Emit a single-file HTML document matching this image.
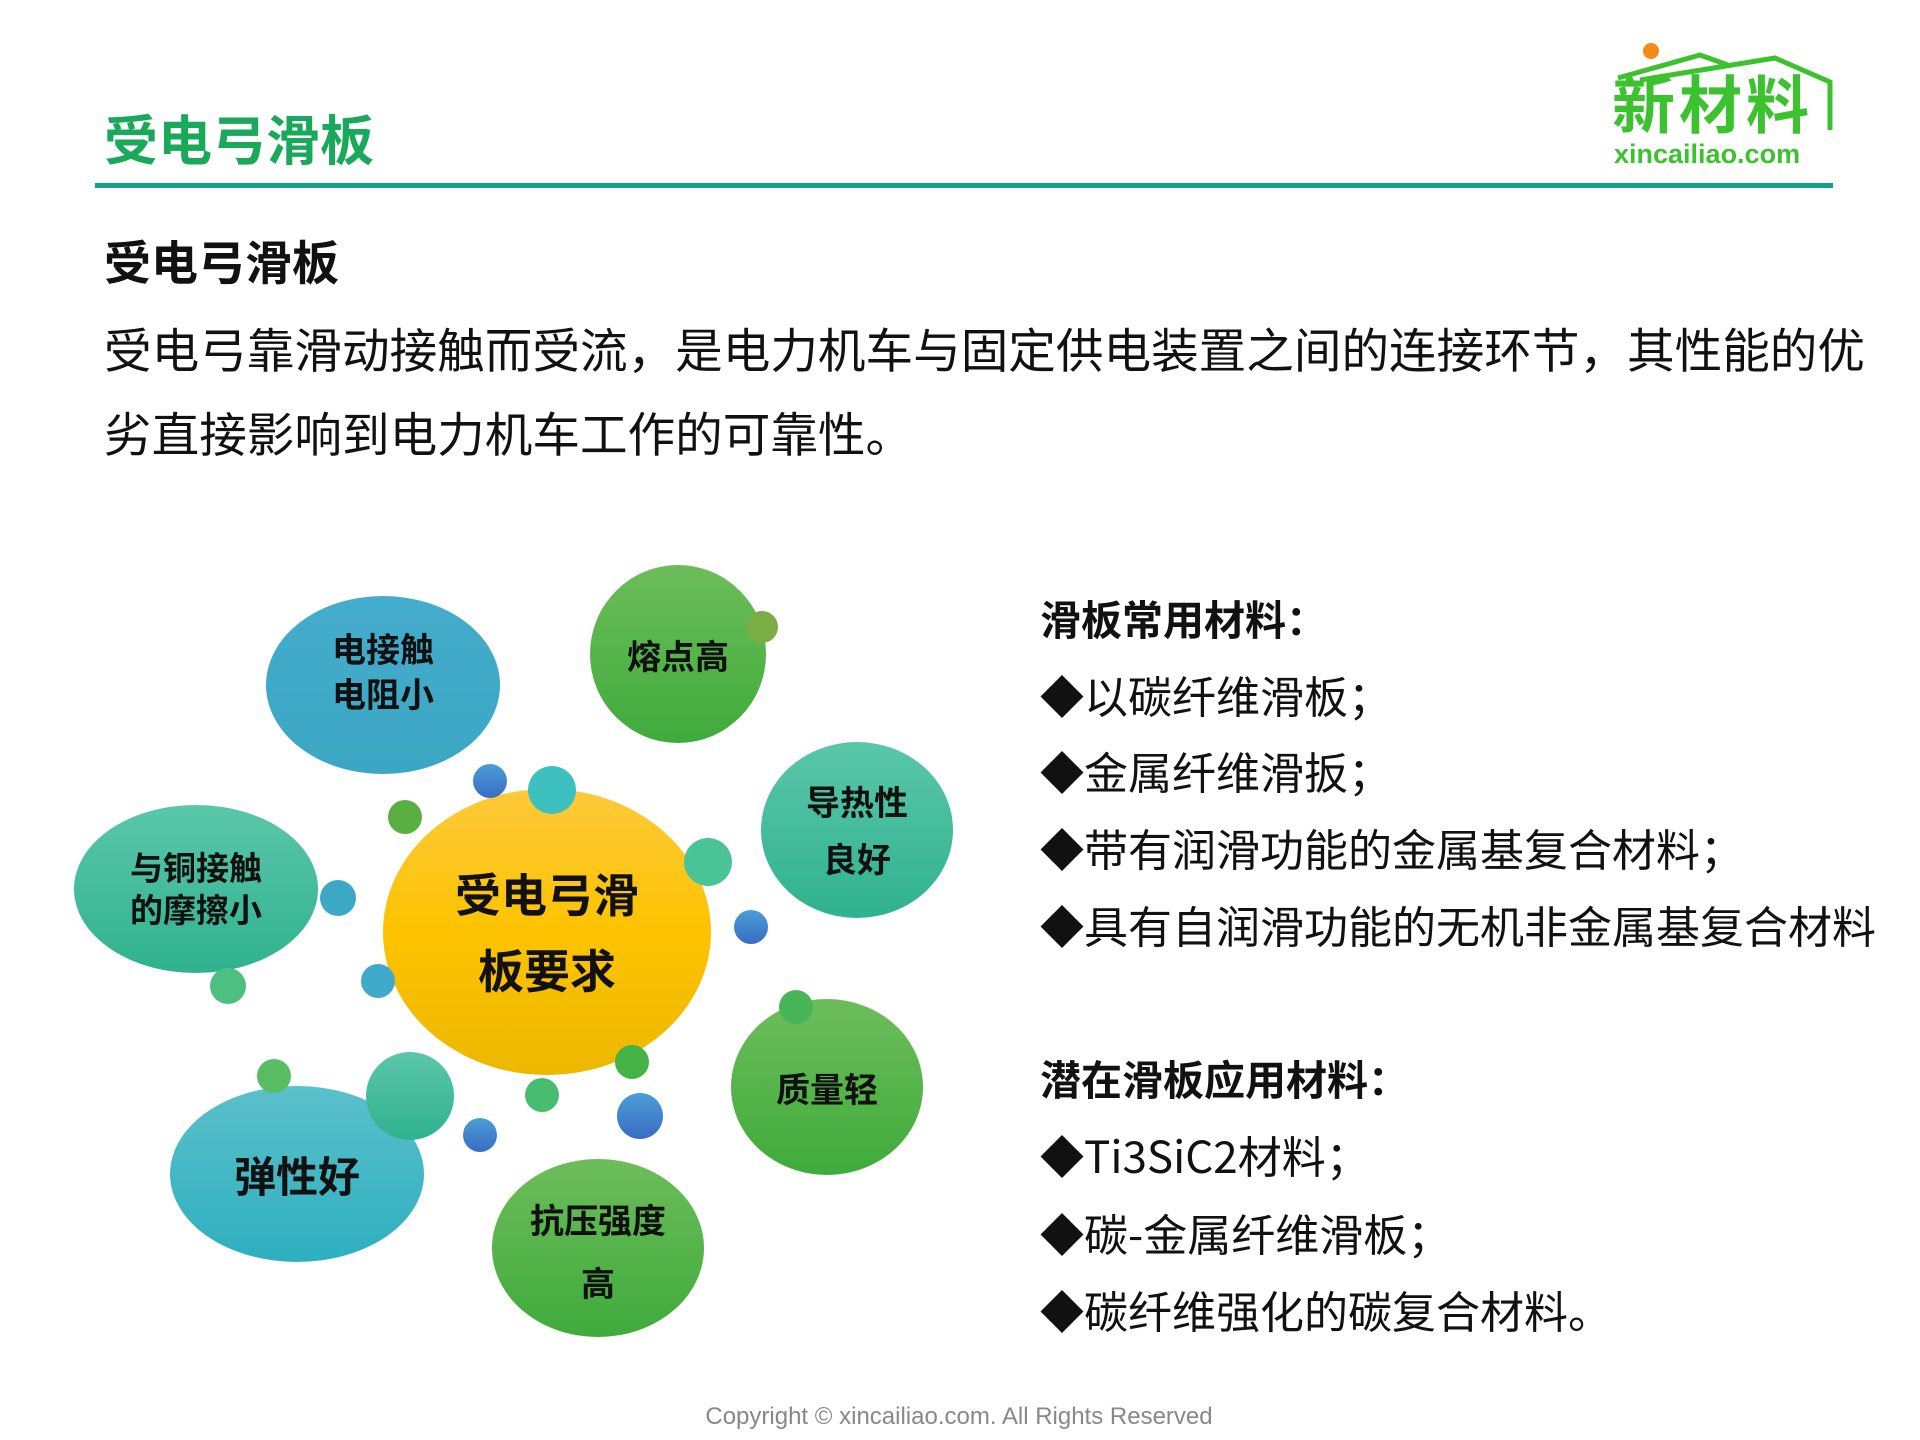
<!DOCTYPE html>
<html><head><meta charset="utf-8"><style>
html,body{margin:0;padding:0;background:#fff;}
body{width:1920px;height:1440px;position:relative;overflow:hidden;font-family:"Liberation Sans","Noto Sans CJK SC",sans-serif;}
.t{position:absolute;white-space:nowrap;line-height:1;}
.c{font-family:"Noto Sans CJK SC",sans-serif;}
</style></head><body>
<svg width="1920" height="1440" style="position:absolute;left:0;top:0" xmlns="http://www.w3.org/2000/svg">
<defs>
<linearGradient id="gy" x1="0" y1="0" x2="0" y2="1"><stop offset="0" stop-color="#fdc93a"/><stop offset="0.5" stop-color="#fdc300"/><stop offset="1" stop-color="#ecb800"/></linearGradient>
<linearGradient id="gg" x1="0" y1="0" x2="0" y2="1"><stop offset="0" stop-color="#6dbd5a"/><stop offset="1" stop-color="#3fab3c"/></linearGradient>
<linearGradient id="gt" x1="0" y1="0" x2="0" y2="1"><stop offset="0" stop-color="#5ac7a9"/><stop offset="1" stop-color="#30b28f"/></linearGradient>
<linearGradient id="gb" x1="0" y1="0" x2="0" y2="1"><stop offset="0" stop-color="#45accc"/><stop offset="1" stop-color="#3ba7c3"/></linearGradient>
<linearGradient id="gc" x1="0" y1="0" x2="0" y2="1"><stop offset="0" stop-color="#5bc0cb"/><stop offset="1" stop-color="#2eafbf"/></linearGradient>
<linearGradient id="gd" x1="0" y1="0" x2="0" y2="1"><stop offset="0" stop-color="#4a9ed6"/><stop offset="1" stop-color="#3a6cc4"/></linearGradient>
</defs>
<rect x="95" y="183" width="1738" height="5" fill="#12a384"/>
<circle cx="1651" cy="51" r="8" fill="#f38a1a"/>
<polyline points="1618,78 1700,55 1728,65" fill="none" stroke="#3dc22f" stroke-width="5"/>
<polyline points="1640,80 1775,58 1830,82 1830,130" fill="none" stroke="#3dc22f" stroke-width="5"/>
<ellipse cx="383" cy="685" rx="117" ry="89" fill="url(#gb)"/>
<ellipse cx="678" cy="654" rx="88" ry="89" fill="url(#gg)"/>
<circle cx="762" cy="627" r="16" fill="#7aae44"/>
<ellipse cx="857" cy="830" rx="96" ry="88" fill="url(#gt)"/>
<ellipse cx="196" cy="889" rx="122" ry="84" fill="url(#gt)"/>
<ellipse cx="827" cy="1087" rx="96" ry="88" fill="url(#gg)"/>
<ellipse cx="297" cy="1174" rx="127" ry="88" fill="url(#gc)"/>
<ellipse cx="598" cy="1248" rx="106" ry="89" fill="url(#gg)"/>
<ellipse cx="547" cy="932" rx="164" ry="143" fill="url(#gy)"/>
<circle cx="490" cy="781" r="17" fill="url(#gd)"/>
<circle cx="552" cy="790" r="24" fill="#3ec0c0"/>
<circle cx="405" cy="817" r="17" fill="#5aaf42"/>
<circle cx="708" cy="862" r="24" fill="#48c496"/>
<circle cx="751" cy="927" r="17" fill="url(#gd)"/>
<circle cx="338" cy="898" r="18" fill="#3ba8c6"/>
<circle cx="378" cy="981" r="17" fill="#40a9cc"/>
<circle cx="228" cy="986" r="18" fill="#4dbf80"/>
<circle cx="796" cy="1007" r="17" fill="#48b658"/>
<circle cx="274" cy="1076" r="17" fill="#58bd62"/>
<circle cx="410" cy="1096" r="44" fill="url(#gt)"/>
<circle cx="480" cy="1135" r="17" fill="url(#gd)"/>
<circle cx="542" cy="1095" r="17" fill="#49bd6f"/>
<circle cx="632" cy="1062" r="17" fill="#43b345"/>
<circle cx="640" cy="1116" r="23" fill="url(#gd)"/>
<g font-family="Noto Sans CJK SC, sans-serif" font-weight="bold" fill="#111" text-anchor="middle">
<text x="383" y="662" font-size="34">电接触</text>
<text x="383" y="707" font-size="34">电阻小</text>
<text x="678" y="669" font-size="34">熔点高</text>
<text x="857" y="815" font-size="34">导热性</text>
<text x="857" y="872" font-size="34">良好</text>
<text x="196" y="880" font-size="33">与铜接触</text>
<text x="196" y="922" font-size="33">的摩擦小</text>
<text x="827" y="1102" font-size="34">质量轻</text>
<text x="297" y="1192" font-size="42">弹性好</text>
<text x="598" y="1233" font-size="34">抗压强度</text>
<text x="598" y="1296" font-size="34">高</text>
<text x="547" y="912" font-size="46">受电弓滑</text>
<text x="547" y="988" font-size="46">板要求</text>
</g>
</svg>
<div class="t c" style="left:1612px;top:70px;font-size:63px;font-weight:bold;color:#3dc22f;letter-spacing:4px">新材料</div>
<div class="t" style="left:1614px;top:141px;font-size:27px;font-weight:bold;color:#3dc22f;">xincailiao.com</div>
<div class="t c" style="left:104px;top:110px;font-size:54px;font-weight:bold;color:#1aa85a;">受电弓滑板</div>
<div class="t c" style="left:104px;top:236px;font-size:47px;font-weight:bold;color:#111;">受电弓滑板</div>
<div class="t c" style="left:104px;top:324px;font-size:47.6px;color:#111;">受电弓靠滑动接触而受流，是电力机车与固定供电装置之间的连接环节，其性能的优</div>
<div class="t c" style="left:104px;top:408px;font-size:47.6px;color:#111;">劣直接影响到电力机车工作的可靠性。</div>
<div class="t c" style="left:1040px;top:597px;font-size:41px;font-weight:bold;color:#111;">滑板常用材料：</div>
<div class="t c" style="left:1040px;top:672px;font-size:44px;color:#111;">◆以碳纤维滑板；</div>
<div class="t c" style="left:1040px;top:748px;font-size:44px;color:#111;">◆金属纤维滑扳；</div>
<div class="t c" style="left:1040px;top:825px;font-size:44px;color:#111;">◆带有润滑功能的金属基复合材料；</div>
<div class="t c" style="left:1040px;top:902px;font-size:44px;color:#111;">◆具有自润滑功能的无机非金属基复合材料</div>
<div class="t c" style="left:1040px;top:1057px;font-size:41px;font-weight:bold;color:#111;">潜在滑板应用材料：</div>
<div class="t c" style="left:1040px;top:1132px;font-size:44px;color:#111;">◆Ti3SiC2材料；</div>
<div class="t c" style="left:1040px;top:1210px;font-size:44px;color:#111;">◆碳-金属纤维滑板；</div>
<div class="t c" style="left:1040px;top:1287px;font-size:44px;color:#111;">◆碳纤维强化的碳复合材料。</div>
<div class="t" style="left:0;width:1918px;text-align:center;top:1405px;font-size:24px;color:#888;">Copyright © xincailiao.com. All Rights Reserved</div>
</body></html>
